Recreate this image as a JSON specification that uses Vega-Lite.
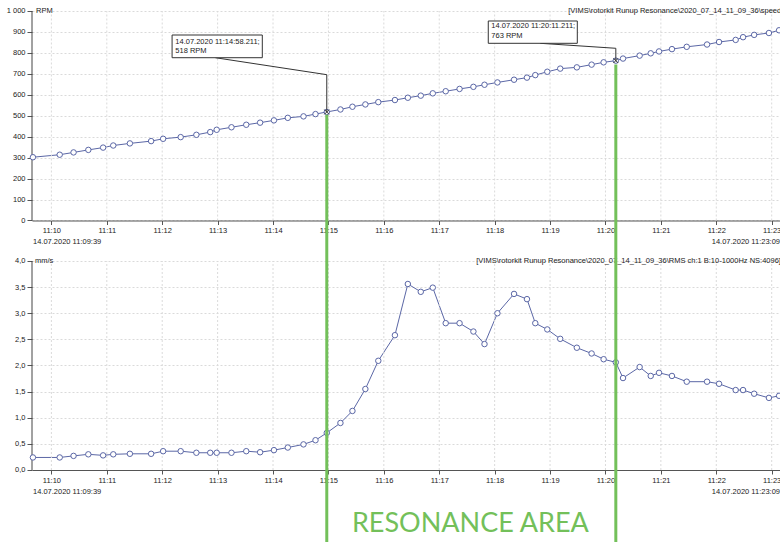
{
  "$schema": "https://vega.github.io/schema/vega-lite/v6.json",
  "width": 748,
  "height": 542,
  "autosize": {"type": "none"},
  "padding": {"left": 32, "top": 0, "right": 0, "bottom": 0},
  "background": "white",
  "config": {
    "view": {"stroke": null},
    "font": "Liberation Sans",
    "text": {"font": "Liberation Sans", "fontSize": 7.5, "color": "#222"},
    "axis": {"labelFont": "Liberation Sans"}
  },
  "datasets": {
    "series": [
      {"t": "2020-07-14T11:09:40", "rpm": 302, "vel": 0.24},
      {"t": "2020-07-14T11:10:09", "rpm": 314, "vel": 0.24},
      {"t": "2020-07-14T11:10:24", "rpm": 325, "vel": 0.27},
      {"t": "2020-07-14T11:10:40", "rpm": 337, "vel": 0.30},
      {"t": "2020-07-14T11:10:56", "rpm": 348, "vel": 0.28},
      {"t": "2020-07-14T11:11:07", "rpm": 358, "vel": 0.30},
      {"t": "2020-07-14T11:11:25", "rpm": 368, "vel": 0.31},
      {"t": "2020-07-14T11:11:48", "rpm": 379, "vel": 0.31},
      {"t": "2020-07-14T11:12:01", "rpm": 390, "vel": 0.36},
      {"t": "2020-07-14T11:12:20", "rpm": 398, "vel": 0.36},
      {"t": "2020-07-14T11:12:37", "rpm": 409, "vel": 0.33},
      {"t": "2020-07-14T11:12:52", "rpm": 422, "vel": 0.33},
      {"t": "2020-07-14T11:12:59", "rpm": 433, "vel": 0.33},
      {"t": "2020-07-14T11:13:15", "rpm": 445, "vel": 0.33},
      {"t": "2020-07-14T11:13:31", "rpm": 457, "vel": 0.36},
      {"t": "2020-07-14T11:13:46", "rpm": 467, "vel": 0.34},
      {"t": "2020-07-14T11:14:01", "rpm": 478, "vel": 0.38},
      {"t": "2020-07-14T11:14:16", "rpm": 490, "vel": 0.43},
      {"t": "2020-07-14T11:14:33", "rpm": 497, "vel": 0.49},
      {"t": "2020-07-14T11:14:46", "rpm": 508, "vel": 0.57},
      {"t": "2020-07-14T11:14:58.211", "rpm": 518, "vel": 0.71},
      {"t": "2020-07-14T11:15:13", "rpm": 530, "vel": 0.90},
      {"t": "2020-07-14T11:15:26", "rpm": 543, "vel": 1.13},
      {"t": "2020-07-14T11:15:40", "rpm": 554, "vel": 1.55},
      {"t": "2020-07-14T11:15:54", "rpm": 565, "vel": 2.09},
      {"t": "2020-07-14T11:16:12", "rpm": 575, "vel": 2.58},
      {"t": "2020-07-14T11:16:26", "rpm": 586, "vel": 3.56},
      {"t": "2020-07-14T11:16:40", "rpm": 596, "vel": 3.41},
      {"t": "2020-07-14T11:16:53", "rpm": 607, "vel": 3.49},
      {"t": "2020-07-14T11:17:07", "rpm": 617, "vel": 2.81},
      {"t": "2020-07-14T11:17:22", "rpm": 628, "vel": 2.81},
      {"t": "2020-07-14T11:17:37", "rpm": 638, "vel": 2.65},
      {"t": "2020-07-14T11:17:49", "rpm": 648, "vel": 2.41},
      {"t": "2020-07-14T11:18:03", "rpm": 659, "vel": 3.00},
      {"t": "2020-07-14T11:18:21", "rpm": 672, "vel": 3.37},
      {"t": "2020-07-14T11:18:35", "rpm": 682, "vel": 3.27},
      {"t": "2020-07-14T11:18:44", "rpm": 694, "vel": 2.81},
      {"t": "2020-07-14T11:18:57", "rpm": 710, "vel": 2.69},
      {"t": "2020-07-14T11:19:11", "rpm": 725, "vel": 2.51},
      {"t": "2020-07-14T11:19:29", "rpm": 731, "vel": 2.34},
      {"t": "2020-07-14T11:19:45", "rpm": 744, "vel": 2.23},
      {"t": "2020-07-14T11:19:58", "rpm": 755, "vel": 2.12},
      {"t": "2020-07-14T11:20:11.211", "rpm": 763, "vel": 2.06},
      {"t": "2020-07-14T11:20:19", "rpm": 773, "vel": 1.76},
      {"t": "2020-07-14T11:20:37", "rpm": 787, "vel": 1.97},
      {"t": "2020-07-14T11:20:49", "rpm": 798, "vel": 1.80},
      {"t": "2020-07-14T11:20:58", "rpm": 807, "vel": 1.86},
      {"t": "2020-07-14T11:21:12", "rpm": 818, "vel": 1.80},
      {"t": "2020-07-14T11:21:28", "rpm": 829, "vel": 1.69},
      {"t": "2020-07-14T11:21:50", "rpm": 840, "vel": 1.69},
      {"t": "2020-07-14T11:22:03", "rpm": 852, "vel": 1.65},
      {"t": "2020-07-14T11:22:21", "rpm": 862, "vel": 1.53},
      {"t": "2020-07-14T11:22:29", "rpm": 875, "vel": 1.53},
      {"t": "2020-07-14T11:22:41", "rpm": 886, "vel": 1.46},
      {"t": "2020-07-14T11:22:57", "rpm": 895, "vel": 1.38},
      {"t": "2020-07-14T11:23:08", "rpm": 908, "vel": 1.42}
    ],
    "minutes": [
      {"t": "2020-07-14T11:10:00"}, {"t": "2020-07-14T11:11:00"}, {"t": "2020-07-14T11:12:00"},
      {"t": "2020-07-14T11:13:00"}, {"t": "2020-07-14T11:14:00"}, {"t": "2020-07-14T11:15:00"},
      {"t": "2020-07-14T11:16:00"}, {"t": "2020-07-14T11:17:00"}, {"t": "2020-07-14T11:18:00"},
      {"t": "2020-07-14T11:19:00"}, {"t": "2020-07-14T11:20:00"}, {"t": "2020-07-14T11:21:00"},
      {"t": "2020-07-14T11:22:00"}, {"t": "2020-07-14T11:23:00"}
    ],
    "one": [{}]
  },
  "resolve": {"scale": {"y": "independent"}, "axis": {"x": "independent", "y": "independent"}},
  "layer": [
    {
      "data": {"name": "series"},
      "mark": {"type": "line", "color": "#5b67a6", "strokeWidth": 1},
      "encoding": {
        "x": {"field": "t", "type": "temporal",
          "scale": {"domain": [{"year": 2020, "month": 7, "date": 14, "hours": 11, "minutes": 9, "seconds": 39}, {"year": 2020, "month": 7, "date": 14, "hours": 11, "minutes": 23, "seconds": 9}], "nice": false},
          "axis": {"orient": "bottom", "offset": -72, "format": "%H:%M",
            "values": [
              {"year": 2020, "month": 7, "date": 14, "hours": 11, "minutes": 10}, {"year": 2020, "month": 7, "date": 14, "hours": 11, "minutes": 11},
              {"year": 2020, "month": 7, "date": 14, "hours": 11, "minutes": 12}, {"year": 2020, "month": 7, "date": 14, "hours": 11, "minutes": 13},
              {"year": 2020, "month": 7, "date": 14, "hours": 11, "minutes": 14}, {"year": 2020, "month": 7, "date": 14, "hours": 11, "minutes": 15},
              {"year": 2020, "month": 7, "date": 14, "hours": 11, "minutes": 16}, {"year": 2020, "month": 7, "date": 14, "hours": 11, "minutes": 17},
              {"year": 2020, "month": 7, "date": 14, "hours": 11, "minutes": 18}, {"year": 2020, "month": 7, "date": 14, "hours": 11, "minutes": 19},
              {"year": 2020, "month": 7, "date": 14, "hours": 11, "minutes": 20}, {"year": 2020, "month": 7, "date": 14, "hours": 11, "minutes": 21},
              {"year": 2020, "month": 7, "date": 14, "hours": 11, "minutes": 22}, {"year": 2020, "month": 7, "date": 14, "hours": 11, "minutes": 23}
            ],
            "grid": false, "domainColor": "#555", "tickColor": "#555", "tickSize": 4, "labelFontSize": 7.5, "labelColor": "#222", "labelPadding": 2, "labelFlush": false, "labelOverlap": false, "title": null}},
        "y": {"field": "vel", "type": "quantitative",
          "scale": {"domain": [-1.378, 8.995], "nice": false, "zero": false},
          "axis": {"orient": "left", "values": [0, 0.5, 1, 1.5, 2, 2.5, 3, 3.5, 4], "labelExpr": "replace(format(datum.value, '.1f'), '.', ',')", "grid": true, "gridColor": "#dadada", "gridDash": [2, 2], "domain": false, "tickColor": "#555", "tickSize": 5, "labelFontSize": 7.5, "labelColor": "#222", "labelPadding": 2, "title": null}}
      }
    },
    {
      "data": {"name": "series"},
      "mark": {"type": "line", "color": "#5b67a6", "strokeWidth": 1},
      "encoding": {
        "x": {"field": "t", "type": "temporal",
          "scale": {"domain": [{"year": 2020, "month": 7, "date": 14, "hours": 11, "minutes": 9, "seconds": 39}, {"year": 2020, "month": 7, "date": 14, "hours": 11, "minutes": 23, "seconds": 9}], "nice": false},
          "axis": {"orient": "bottom", "offset": -321.5, "format": "%H:%M",
            "values": [
              {"year": 2020, "month": 7, "date": 14, "hours": 11, "minutes": 10}, {"year": 2020, "month": 7, "date": 14, "hours": 11, "minutes": 11},
              {"year": 2020, "month": 7, "date": 14, "hours": 11, "minutes": 12}, {"year": 2020, "month": 7, "date": 14, "hours": 11, "minutes": 13},
              {"year": 2020, "month": 7, "date": 14, "hours": 11, "minutes": 14}, {"year": 2020, "month": 7, "date": 14, "hours": 11, "minutes": 15},
              {"year": 2020, "month": 7, "date": 14, "hours": 11, "minutes": 16}, {"year": 2020, "month": 7, "date": 14, "hours": 11, "minutes": 17},
              {"year": 2020, "month": 7, "date": 14, "hours": 11, "minutes": 18}, {"year": 2020, "month": 7, "date": 14, "hours": 11, "minutes": 19},
              {"year": 2020, "month": 7, "date": 14, "hours": 11, "minutes": 20}, {"year": 2020, "month": 7, "date": 14, "hours": 11, "minutes": 21},
              {"year": 2020, "month": 7, "date": 14, "hours": 11, "minutes": 22}, {"year": 2020, "month": 7, "date": 14, "hours": 11, "minutes": 23}
            ],
            "grid": false, "domainColor": "#555", "tickColor": "#555", "tickSize": 4, "labelFontSize": 7.5, "labelColor": "#222", "labelPadding": 2, "labelFlush": false, "labelOverlap": false, "title": null}},
        "y": {"field": "rpm", "type": "quantitative",
          "scale": {"domain": [-1534.6, 1052.5], "nice": false, "zero": false},
          "axis": {"orient": "left", "values": [0, 100, 200, 300, 400, 500, 600, 700, 800, 900, 1000], "labelExpr": "replace(format(datum.value, ','), ',', ' ')", "grid": true, "gridColor": "#dadada", "gridDash": [2, 2], "domain": false, "tickColor": "#555", "tickSize": 5, "labelFontSize": 7.5, "labelColor": "#222", "labelPadding": 2, "title": null}}
      }
    },
    {
      "data": {"name": "minutes"},
      "mark": {"type": "rule", "color": "#dadada", "strokeDash": [2, 2], "strokeWidth": 1},
      "encoding": {
        "x": {"field": "t", "type": "temporal", "axis": null},
        "y": {"datum": 0, "type": "quantitative", "axis": null, "scale": {"domain": [-1.378, 8.995], "nice": false, "zero": false}},
        "y2": {"datum": 4}
      }
    },
    {
      "data": {"name": "minutes"},
      "mark": {"type": "rule", "color": "#dadada", "strokeDash": [2, 2], "strokeWidth": 1},
      "encoding": {
        "x": {"field": "t", "type": "temporal", "axis": null},
        "y": {"datum": 0, "type": "quantitative", "axis": null, "scale": {"domain": [-1534.6, 1052.5], "nice": false, "zero": false}},
        "y2": {"datum": 1000}
      }
    },
    {
      "data": {"name": "one"},
      "mark": {"type": "rule", "color": "#444", "strokeWidth": 1},
      "encoding": {
        "x": {"datum": {"year": 2020, "month": 7, "date": 14, "hours": 11, "minutes": 9, "seconds": 39}, "type": "temporal", "axis": null},
        "y": {"datum": 0, "type": "quantitative", "axis": null, "scale": {"domain": [-1.378, 8.995], "nice": false, "zero": false}},
        "y2": {"datum": 4}
      }
    },
    {
      "data": {"name": "one"},
      "mark": {"type": "rule", "color": "#444", "strokeWidth": 1},
      "encoding": {
        "x": {"datum": {"year": 2020, "month": 7, "date": 14, "hours": 11, "minutes": 9, "seconds": 39}, "type": "temporal", "axis": null},
        "y": {"datum": 0, "type": "quantitative", "axis": null, "scale": {"domain": [-1534.6, 1052.5], "nice": false, "zero": false}},
        "y2": {"datum": 1000}
      }
    },
    {
      "data": {"name": "series"},
      "mark": {"type": "point", "shape": "circle", "filled": true, "fill": "white", "stroke": "#5b67a6", "strokeWidth": 1, "size": 30, "opacity": 1},
      "encoding": {
        "x": {"field": "t", "type": "temporal", "axis": null},
        "y": {"field": "vel", "type": "quantitative", "axis": null, "scale": {"domain": [-1.378, 8.995], "nice": false, "zero": false}}
      }
    },
    {
      "data": {"name": "series"},
      "mark": {"type": "point", "shape": "circle", "filled": true, "fill": "white", "stroke": "#5b67a6", "strokeWidth": 1, "size": 30, "opacity": 1},
      "encoding": {
        "x": {"field": "t", "type": "temporal", "axis": null},
        "y": {"field": "rpm", "type": "quantitative", "axis": null, "scale": {"domain": [-1534.6, 1052.5], "nice": false, "zero": false}}
      }
    },
    {
      "data": {"name": "one"},
      "mark": {"type": "text", "text": "mm/s", "align": "left", "baseline": "middle", "dx": 3},
      "encoding": {
        "x": {"datum": {"year": 2020, "month": 7, "date": 14, "hours": 11, "minutes": 9, "seconds": 39}, "type": "temporal", "axis": null},
        "y": {"datum": 4, "type": "quantitative", "axis": null, "scale": {"domain": [-1.378, 8.995], "nice": false, "zero": false}}
      }
    },
    {
      "data": {"name": "one"},
      "mark": {"type": "text", "text": "[VIMS\\rotorkit Runup Resonance\\2020_07_14_11_09_36\\RMS ch:1 B:10-1000Hz NS:4096]", "align": "left", "baseline": "middle"},
      "encoding": {
        "x": {"datum": {"year": 2020, "month": 7, "date": 14, "hours": 11, "minutes": 17, "seconds": 40, "milliseconds": 100}, "type": "temporal", "axis": null},
        "y": {"datum": 4, "type": "quantitative", "axis": null, "scale": {"domain": [-1.378, 8.995], "nice": false, "zero": false}}
      }
    },
    {
      "data": {"name": "one"},
      "mark": {"type": "text", "text": "14.07.2020 11:09:39", "align": "left", "baseline": "middle", "dx": 1},
      "encoding": {
        "x": {"datum": {"year": 2020, "month": 7, "date": 14, "hours": 11, "minutes": 9, "seconds": 39}, "type": "temporal", "axis": null},
        "y": {"datum": -0.427, "type": "quantitative", "axis": null, "scale": {"domain": [-1.378, 8.995], "nice": false, "zero": false}}
      }
    },
    {
      "data": {"name": "one"},
      "mark": {"type": "text", "text": "14.07.2020 11:23:09", "align": "right", "baseline": "middle"},
      "encoding": {
        "x": {"datum": {"year": 2020, "month": 7, "date": 14, "hours": 11, "minutes": 23, "seconds": 9}, "type": "temporal", "axis": null},
        "y": {"datum": -0.427, "type": "quantitative", "axis": null, "scale": {"domain": [-1.378, 8.995], "nice": false, "zero": false}}
      }
    },
    {
      "data": {"name": "one"},
      "mark": {"type": "text", "text": "RPM", "align": "left", "baseline": "middle", "dx": 4},
      "encoding": {
        "x": {"datum": {"year": 2020, "month": 7, "date": 14, "hours": 11, "minutes": 9, "seconds": 39}, "type": "temporal", "axis": null},
        "y": {"datum": 1000, "type": "quantitative", "axis": null, "scale": {"domain": [-1534.6, 1052.5], "nice": false, "zero": false}}
      }
    },
    {
      "data": {"name": "one"},
      "mark": {"type": "text", "text": "[VIMS\\rotorkit Runup Resonance\\2020_07_14_11_09_36\\speed]", "align": "left", "baseline": "middle"},
      "encoding": {
        "x": {"datum": {"year": 2020, "month": 7, "date": 14, "hours": 11, "minutes": 19, "seconds": 19, "milliseconds": 700}, "type": "temporal", "axis": null},
        "y": {"datum": 1000, "type": "quantitative", "axis": null, "scale": {"domain": [-1534.6, 1052.5], "nice": false, "zero": false}}
      }
    },
    {
      "data": {"name": "one"},
      "mark": {"type": "text", "text": "14.07.2020 11:09:39", "align": "left", "baseline": "middle", "dx": 1},
      "encoding": {
        "x": {"datum": {"year": 2020, "month": 7, "date": 14, "hours": 11, "minutes": 9, "seconds": 39}, "type": "temporal", "axis": null},
        "y": {"datum": -105, "type": "quantitative", "axis": null, "scale": {"domain": [-1534.6, 1052.5], "nice": false, "zero": false}}
      }
    },
    {
      "data": {"name": "one"},
      "mark": {"type": "text", "text": "14.07.2020 11:23:09", "align": "right", "baseline": "middle"},
      "encoding": {
        "x": {"datum": {"year": 2020, "month": 7, "date": 14, "hours": 11, "minutes": 23, "seconds": 9}, "type": "temporal", "axis": null},
        "y": {"datum": -105, "type": "quantitative", "axis": null, "scale": {"domain": [-1534.6, 1052.5], "nice": false, "zero": false}}
      }
    },
    {
      "data": {"name": "one"},
      "mark": {"type": "rule", "color": "#333", "strokeWidth": 1},
      "encoding": {
        "x": {"datum": {"year": 2020, "month": 7, "date": 14, "hours": 11, "minutes": 12, "seconds": 57, "milliseconds": 600}, "type": "temporal", "axis": null},
        "x2": {"datum": {"year": 2020, "month": 7, "date": 14, "hours": 11, "minutes": 14, "seconds": 58, "milliseconds": 211}},
        "y": {"datum": 777, "type": "quantitative", "axis": null, "scale": {"domain": [-1534.6, 1052.5], "nice": false, "zero": false}},
        "y2": {"datum": 696}
      }
    },
    {
      "data": {"name": "one"},
      "mark": {"type": "rule", "color": "#333", "strokeWidth": 1},
      "encoding": {
        "x": {"datum": {"year": 2020, "month": 7, "date": 14, "hours": 11, "minutes": 14, "seconds": 58, "milliseconds": 211}, "type": "temporal", "axis": null},
        "y": {"datum": 696, "type": "quantitative", "axis": null, "scale": {"domain": [-1534.6, 1052.5], "nice": false, "zero": false}},
        "y2": {"datum": 518}
      }
    },
    {
      "data": {"name": "one"},
      "mark": {"type": "rule", "color": "#333", "strokeWidth": 1},
      "encoding": {
        "x": {"datum": {"year": 2020, "month": 7, "date": 14, "hours": 11, "minutes": 18, "seconds": 49, "milliseconds": 400}, "type": "temporal", "axis": null},
        "x2": {"datum": {"year": 2020, "month": 7, "date": 14, "hours": 11, "minutes": 20, "seconds": 11, "milliseconds": 211}},
        "y": {"datum": 845.8, "type": "quantitative", "axis": null, "scale": {"domain": [-1534.6, 1052.5], "nice": false, "zero": false}},
        "y2": {"datum": 822}
      }
    },
    {
      "data": {"name": "one"},
      "mark": {"type": "rule", "color": "#333", "strokeWidth": 1},
      "encoding": {
        "x": {"datum": {"year": 2020, "month": 7, "date": 14, "hours": 11, "minutes": 20, "seconds": 11, "milliseconds": 211}, "type": "temporal", "axis": null},
        "y": {"datum": 822, "type": "quantitative", "axis": null, "scale": {"domain": [-1534.6, 1052.5], "nice": false, "zero": false}},
        "y2": {"datum": 763}
      }
    },
    {
      "data": {"name": "one"},
      "mark": {"type": "rect", "fill": "white", "stroke": "#333", "strokeWidth": 1},
      "encoding": {
        "x": {"datum": {"year": 2020, "month": 7, "date": 14, "hours": 11, "minutes": 12, "seconds": 10, "milliseconds": 700}, "type": "temporal", "axis": null},
        "x2": {"datum": {"year": 2020, "month": 7, "date": 14, "hours": 11, "minutes": 13, "seconds": 48, "milliseconds": 400}},
        "y": {"datum": 885.4, "type": "quantitative", "axis": null, "scale": {"domain": [-1534.6, 1052.5], "nice": false, "zero": false}},
        "y2": {"datum": 777}
      }
    },
    {
      "data": {"name": "one"},
      "mark": {"type": "rect", "fill": "white", "stroke": "#333", "strokeWidth": 1},
      "encoding": {
        "x": {"datum": {"year": 2020, "month": 7, "date": 14, "hours": 11, "minutes": 17, "seconds": 53, "milliseconds": 100}, "type": "temporal", "axis": null},
        "x2": {"datum": {"year": 2020, "month": 7, "date": 14, "hours": 11, "minutes": 19, "seconds": 29, "milliseconds": 500}},
        "y": {"datum": 952.3, "type": "quantitative", "axis": null, "scale": {"domain": [-1534.6, 1052.5], "nice": false, "zero": false}},
        "y2": {"datum": 845.8}
      }
    },
    {
      "data": {"name": "one"},
      "mark": {"type": "text", "text": "14.07.2020 11:14:58.211;", "align": "left", "baseline": "middle"},
      "encoding": {
        "x": {"datum": {"year": 2020, "month": 7, "date": 14, "hours": 11, "minutes": 12, "seconds": 14, "milliseconds": 200}, "type": "temporal", "axis": null},
        "y": {"datum": 850.6, "type": "quantitative", "axis": null, "scale": {"domain": [-1534.6, 1052.5], "nice": false, "zero": false}}
      }
    },
    {
      "data": {"name": "one"},
      "mark": {"type": "text", "text": "518 RPM", "align": "left", "baseline": "middle"},
      "encoding": {
        "x": {"datum": {"year": 2020, "month": 7, "date": 14, "hours": 11, "minutes": 12, "seconds": 14, "milliseconds": 200}, "type": "temporal", "axis": null},
        "y": {"datum": 809, "type": "quantitative", "axis": null, "scale": {"domain": [-1534.6, 1052.5], "nice": false, "zero": false}}
      }
    },
    {
      "data": {"name": "one"},
      "mark": {"type": "text", "text": "14.07.2020 11:20:11.211;", "align": "left", "baseline": "middle"},
      "encoding": {
        "x": {"datum": {"year": 2020, "month": 7, "date": 14, "hours": 11, "minutes": 17, "seconds": 56, "milliseconds": 400}, "type": "temporal", "axis": null},
        "y": {"datum": 928.4, "type": "quantitative", "axis": null, "scale": {"domain": [-1534.6, 1052.5], "nice": false, "zero": false}}
      }
    },
    {
      "data": {"name": "one"},
      "mark": {"type": "text", "text": "763 RPM", "align": "left", "baseline": "middle"},
      "encoding": {
        "x": {"datum": {"year": 2020, "month": 7, "date": 14, "hours": 11, "minutes": 17, "seconds": 56, "milliseconds": 400}, "type": "temporal", "axis": null},
        "y": {"datum": 880.7, "type": "quantitative", "axis": null, "scale": {"domain": [-1534.6, 1052.5], "nice": false, "zero": false}}
      }
    },
    {
      "data": {"name": "one"},
      "mark": {"type": "point", "shape": "M-1,-1L1,1M-1,1L1,-1", "size": 22, "filled": false, "stroke": "#333", "strokeWidth": 1, "opacity": 1},
      "encoding": {
        "x": {"datum": {"year": 2020, "month": 7, "date": 14, "hours": 11, "minutes": 14, "seconds": 58, "milliseconds": 211}, "type": "temporal", "axis": null},
        "y": {"datum": 518, "type": "quantitative", "axis": null, "scale": {"domain": [-1534.6, 1052.5], "nice": false, "zero": false}}
      }
    },
    {
      "data": {"name": "one"},
      "mark": {"type": "point", "shape": "M-1,-1L1,1M-1,1L1,-1", "size": 22, "filled": false, "stroke": "#333", "strokeWidth": 1, "opacity": 1},
      "encoding": {
        "x": {"datum": {"year": 2020, "month": 7, "date": 14, "hours": 11, "minutes": 20, "seconds": 11, "milliseconds": 211}, "type": "temporal", "axis": null},
        "y": {"datum": 763, "type": "quantitative", "axis": null, "scale": {"domain": [-1534.6, 1052.5], "nice": false, "zero": false}}
      }
    },
    {
      "data": {"name": "one"},
      "mark": {"type": "rule", "color": "#73c05a", "strokeWidth": 3},
      "encoding": {
        "x": {"datum": {"year": 2020, "month": 7, "date": 14, "hours": 11, "minutes": 14, "seconds": 58, "milliseconds": 211}, "type": "temporal", "axis": null},
        "y": {"datum": 505, "type": "quantitative", "axis": null, "scale": {"domain": [-1534.6, 1052.5], "nice": false, "zero": false}},
        "y2": {"datum": -1534.6}
      }
    },
    {
      "data": {"name": "one"},
      "mark": {"type": "rule", "color": "#73c05a", "strokeWidth": 3},
      "encoding": {
        "x": {"datum": {"year": 2020, "month": 7, "date": 14, "hours": 11, "minutes": 20, "seconds": 11, "milliseconds": 211}, "type": "temporal", "axis": null},
        "y": {"datum": 745, "type": "quantitative", "axis": null, "scale": {"domain": [-1534.6, 1052.5], "nice": false, "zero": false}},
        "y2": {"datum": -1534.6}
      }
    },
    {
      "data": {"name": "one"},
      "mark": {"type": "text", "text": "RESONANCE AREA", "align": "center", "baseline": "middle", "font": "Lato", "fontSize": 27, "color": "#73c05a"},
      "encoding": {
        "x": {"datum": {"year": 2020, "month": 7, "date": 14, "hours": 11, "minutes": 17, "seconds": 33, "milliseconds": 700}, "type": "temporal", "axis": null},
        "y": {"datum": -1448.7, "type": "quantitative", "axis": null, "scale": {"domain": [-1534.6, 1052.5], "nice": false, "zero": false}}
      }
    }
  ]
}
